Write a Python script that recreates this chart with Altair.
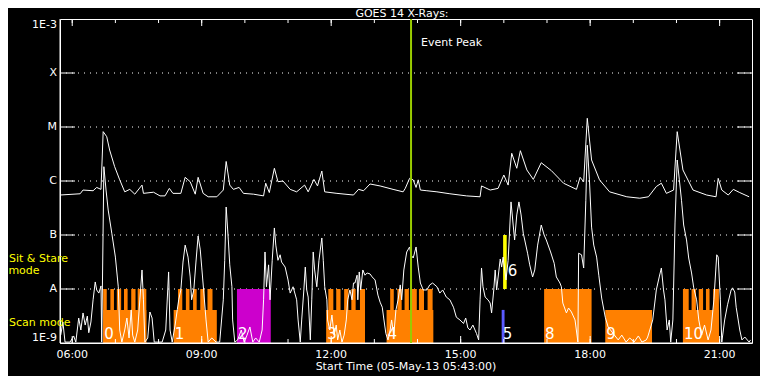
import altair as alt
import pandas as pd

# ---------------- data ----------------
START, END = "05:43", "21:45"

long_time = ["05:43","06:11","06:15","06:29","06:34","06:40","06:43","06:48","06:52","06:59",
             "07:06","07:13","07:20","07:27","07:37","07:39","07:53","08:02","08:09","08:15",
             "08:20","08:31","08:37","08:44","08:51","08:55","09:02","09:09","09:21","09:30",
             "09:34","09:39","09:44","09:52","09:58","10:12","10:26","10:29","10:34","10:41",
             "10:46","10:53","11:03","11:12","11:23","11:28","11:36","11:41","11:47","11:51",
             "12:08","12:31","12:38","12:45","12:54","13:08","13:26","13:40","13:43","13:49",
             "13:54","13:58","14:01","14:04","14:13","14:27","14:45","15:08","15:27","15:29",
             "15:41","15:52","16:00","16:06","16:11","16:18","16:23","16:32","16:41","16:52",
             "17:06","17:23","17:41","17:46","17:51","17:56","18:02","18:13","18:27","18:51",
             "19:09","19:21","19:32","19:39","19:46","19:56","20:01","20:09","20:23","20:42",
             "20:55","20:58","21:03","21:12","21:19","21:28","21:41"]
long_flux = [5.5e-7,5.8e-7,6.8e-7,6.6e-7,7.6e-7,7.0e-7,8.2e-6,6.6e-6,3.75e-6,1.84e-6,
             1.05e-6,6.3e-7,7.0e-7,5.7e-7,8.4e-7,5.9e-7,6.2e-7,5.3e-7,5.3e-7,7.3e-7,
             5.9e-7,5.9e-7,1.17e-6,9.7e-7,5.7e-7,1.17e-6,5.9e-7,5.1e-7,5.1e-7,6.8e-7,
             2.3e-6,8.4e-7,7.0e-7,7.6e-7,5.9e-7,5.7e-7,5.3e-7,9.1e-7,6.1e-7,1.72e-6,
             9.7e-7,1.0e-6,7.0e-7,6.3e-7,8.4e-7,6.3e-7,1.07e-6,8.1e-7,1.53e-6,6.3e-7,
             5.9e-7,5.5e-7,7.0e-7,6.6e-7,8.8e-7,8.1e-7,7.0e-7,6.3e-7,7.3e-7,1.12e-6,
             1.05e-6,7.6e-7,1.05e-6,6.8e-7,6.6e-7,6.3e-7,5.8e-7,5.3e-7,5.1e-7,8.1e-7,
             6.8e-7,7.3e-7,1.29e-6,8.4e-7,3.26e-6,1.72e-6,3.64e-6,1.6e-6,1.07e-6,2.18e-6,
             1.56e-6,9.1e-7,7.0e-7,1.17e-6,9.7e-7,1.45e-5,2.45e-6,1.05e-6,6.3e-7,5.1e-7,
             4.8e-7,5.1e-7,7.9e-7,9.1e-7,5.9e-7,6.8e-7,8.2e-6,1.6e-6,6.8e-7,5.5e-7,
             5.1e-7,1.12e-6,6.8e-7,5.5e-7,7.0e-7,6.1e-7,5.1e-7]

short_time = ["05:44","05:47","05:50","05:57","06:02","06:05","06:09","06:12","06:15","06:18",
              "06:21","06:23","06:26","06:29","06:32","06:34","06:37","06:40","06:41","06:44",
              "06:47","06:50","06:55","07:00","07:04","07:06","07:09","07:13","07:16","07:19",
              "07:22","07:24","07:27","07:31","07:34","07:37","07:39","07:41","07:45","07:48",
              "07:51","07:54","07:59","08:05","08:10","08:14","08:16","08:19","08:23","08:26",
              "08:28","08:31","08:34","08:37","08:41","08:44","08:46","08:49","08:52","08:55",
              "08:58","09:00","09:03","09:06","09:09","09:14","09:20","09:25","09:30","09:32",
              "09:34","09:37","09:39","09:42","09:43","09:46","09:50","09:55","09:59","10:03",
              "10:07","10:11","10:15","10:20","10:24","10:26","10:28","10:30","10:33","10:35",
              "10:38","10:41","10:43","10:46","10:49","10:51","10:56","11:00","11:03","11:07",
              "11:12","11:14","11:17","11:19","11:22","11:24","11:26","11:28","11:31","11:33",
              "11:35","11:37","11:40","11:43","11:47","11:49","11:51","11:54","11:55","11:58",
              "12:01","12:04","12:07","12:09","12:12","12:15","12:18","12:21","12:23","12:26",
              "12:29","12:31","12:33","12:36","12:37","12:39","12:41","12:44","12:47","12:50",
              "12:54","12:57","13:01","13:05","13:08","13:11","13:13","13:16","13:19","13:22",
              "13:24","13:27","13:30","13:33","13:36","13:38","13:41","13:45","13:49","13:51",
              "13:54","13:58","14:01","14:04","14:08","14:13","14:17","14:21","14:27","14:31",
              "14:35","14:40","14:45","14:50","14:54","14:59","15:04","15:07","15:10","15:13",
              "15:17","15:22","15:25","15:27","15:29","15:31","15:34","15:38","15:41","15:43",
              "15:46","15:48","15:50","15:55","15:57","15:59","16:03","16:06","16:10","16:13",
              "16:15","16:18","16:21","16:24","16:27","16:33","16:36","16:40","16:43","16:47",
              "16:52","16:56","16:59","17:05","17:10","17:13","17:18","17:20","17:22","17:27",
              "17:30","17:34","17:39","17:43","17:44","17:48","17:51","17:54","17:56","17:59",
              "18:02","18:05","18:09","18:12","18:16","18:21","18:25","18:32","18:39","18:44",
              "18:50","18:55","19:01","19:07","19:12","19:18","19:20","19:25","19:27","19:32",
              "19:36","19:39","19:42","19:44","19:47","19:50","19:52","19:55","19:58","20:01",
              "20:04","20:07","20:10","20:14","20:17","20:21","20:24","20:28","20:31","20:35",
              "20:39","20:44","20:48","20:52","20:56","20:58","21:01","21:03","21:07","21:11",
              "21:16","21:18","21:21","21:23","21:28","21:31","21:35","21:41","21:43"]
short_flux = [1.4e-9,2.45e-9,1.04e-9,1.04e-9,1.35e-9,1.04e-9,2.9e-9,1.74e-9,3.6e-9,2.15e-9,
              3.16e-9,1.55e-9,2.45e-9,6.3e-9,1.35e-8,9.6e-9,8.4e-9,1.14e-8,1.04e-9,1.84e-6,
              6.8e-7,2.9e-7,1.08e-7,3.9e-8,1.1e-8,1.74e-9,1.04e-9,1.74e-9,2.9e-9,1.24e-9,
              4.1e-9,1.4e-9,1.04e-9,1.74e-9,6.3e-9,2.25e-8,6.3e-9,1.04e-9,1.24e-9,3.75e-9,
              2.9e-9,1.04e-9,1.04e-9,1.04e-9,1.74e-9,2.07e-8,1.74e-9,1.04e-9,2.15e-9,4.1e-9,
              6.3e-9,9.6e-9,3.16e-8,6.5e-8,3.9e-8,1.67e-8,6.3e-9,9.6e-9,3.16e-8,9.6e-8,
              5.3e-8,2.55e-8,8.4e-9,2.67e-9,1.04e-9,1.24e-9,1.04e-9,1.04e-9,6.3e-9,3.4e-8,
              3.3e-7,8.1e-8,2.8e-8,1.1e-8,2.67e-9,1.04e-9,1.14e-9,1.74e-9,1.04e-9,1.4e-9,
              1.98e-9,1.04e-9,1.24e-9,1.04e-9,1.74e-9,6.3e-9,4.85e-8,1.1e-8,2.8e-8,6.3e-9,
              3.4e-8,1.35e-7,6.5e-8,3.4e-8,4.3e-8,3.16e-8,2.55e-8,1.47e-8,8.4e-9,1.1e-8,
              6.3e-9,2.67e-9,1.04e-9,2.67e-9,9.6e-9,2.55e-8,9.6e-9,7.1e-9,1.14e-9,6.3e-9,
              4.85e-8,2.25e-8,1.1e-8,3.4e-8,8.8e-8,3.4e-8,1.1e-8,6.3e-9,2.67e-9,1.74e-9,
              3.3e-9,1.4e-9,2.15e-9,1.14e-9,1.74e-9,1.04e-9,1.4e-9,2.67e-9,6.3e-9,9.6e-9,
              6.3e-9,1.29e-8,1.29e-8,1.8e-8,6.3e-9,2.07e-8,9.6e-9,2.25e-8,1.8e-8,1.98e-8,
              1.9e-8,1.67e-8,1.47e-8,7.7e-9,5.7e-9,4.6e-9,2.9e-9,1.5e-9,1.14e-9,1.74e-9,
              2.67e-9,1.4e-9,4.1e-9,6.3e-9,1.19e-8,6.3e-9,2.25e-8,4.85e-8,6.0e-8,4.3e-8,
              3.75e-8,6.0e-8,2.55e-8,1.29e-8,9.6e-9,9.6e-9,1.19e-8,1.29e-8,1.1e-8,8.4e-9,
              9.6e-9,7.1e-9,6.3e-9,4.6e-9,3.0e-9,2.67e-9,2.3e-9,2.9e-9,1.9e-9,1.74e-9,
              2.15e-9,1.5e-9,1.14e-9,6.3e-9,2.45e-8,1.1e-8,7.1e-9,6.3e-9,5.5e-9,3.6e-9,
              9.6e-9,2.25e-8,9.6e-9,3.6e-8,2.55e-8,3.9e-8,1.47e-8,3.4e-8,4.1e-7,1.53e-7,
              8.1e-8,2.35e-7,4.1e-7,2.35e-7,1.08e-7,4.6e-8,2.8e-8,1.67e-8,2.25e-8,6.5e-8,
              1.53e-7,1.0e-7,8.1e-8,4.85e-8,3.0e-8,1.67e-8,1.29e-8,1.1e-8,5.5e-9,3.6e-9,
              4.45e-9,3.75e-9,2.67e-9,1.04e-9,4.6e-8,4.3e-8,2.45e-8,4.4e-7,4.6e-6,1.05e-6,
              1.4e-7,6.5e-8,3.9e-8,1.8e-8,6.8e-9,3.0e-9,1.98e-9,1.5e-9,1.14e-9,1.4e-9,
              1.04e-9,1.24e-9,1.04e-9,1.35e-9,1.04e-9,1.14e-9,1.29e-9,2.15e-9,2.67e-9,9.6e-9,
              1.67e-8,2.45e-8,9.6e-9,6.3e-9,1.74e-9,2.67e-9,1.04e-9,2.67e-9,1.67e-7,2.45e-6,
              1.05e-6,4.4e-7,1.53e-7,8.1e-8,3.75e-8,1.98e-8,1.05e-8,6.3e-9,2.67e-9,1.4e-9,
              2.15e-9,1.14e-9,1.74e-9,6.3e-9,4.3e-8,3.9e-8,6.3e-9,1.04e-9,2.67e-9,5.1e-9,
              9.6e-9,1.05e-8,8.8e-9,4.6e-9,1.74e-9,1.14e-9,1.29e-9,1.04e-9,1.14e-9]

# observation blocks
block_label = ["0", "1", "2", "3", "4", "5", "6", "8", "9", "10"]
block_start = ["06:43","08:21","09:49","11:53","13:17","15:57","15:59","16:56","18:21","20:09"]
block_end   = ["07:43","09:21","10:36","12:47","14:22","16:01","16:04","18:02","19:26","20:59"]
block_low   = [1e-9, 1e-9, 1e-9, 1e-9, 1e-9, 1e-9, 1e-8, 1e-9, 1e-9, 1e-9]
block_high  = [4.1e-9, 4.1e-9, 1e-8, 4.1e-9, 4.1e-9, 4.1e-9, 1e-7, 1e-8, 4.1e-9, 4.1e-9]
block_color = ["#ff8000","#ff8000","#cc00cc","#ff8000","#ff8000","#5a5aff","#ffff00",
               "#ff8000","#ff8000","#ff8000"]
label_time  = ["06:43","08:21","09:49","11:53","13:17","15:57","16:04","16:56","18:21","20:09"]
label_flux  = [1.19e-9, 1.19e-9, 1.19e-9, 1.19e-9, 1.19e-9, 1.19e-9, 1.74e-8, 1.19e-9, 1.19e-9, 1.19e-9]

teeth_start = ["06:43","06:53","07:02","07:12","07:22","07:31",
               "08:27","08:38","08:48","08:58","09:08",
               "11:56","12:07","12:18","12:28","12:40",
               "13:22","13:32","13:42","13:52","14:02","14:14",
               "20:09","20:21","20:31","20:41","20:51"]
teeth_end   = ["06:48","06:58","07:08","07:17","07:28","07:43",
               "08:33","08:43","08:53","09:04","09:15",
               "12:03","12:13","12:24","12:34","12:47",
               "13:27","13:38","13:48","13:59","14:09","14:21",
               "20:17","20:27","20:37","20:46","20:59"]

level_value = [1e-8, 1e-7, 1e-6, 1e-5, 1e-4]
level_name = ["A", "B", "C", "M", "X"]
top_level, top_name = 1e-3, "1E-3"
bottom_level, bottom_name = 1e-9, "1E-9"
hour_ticks = list(range(6, 22))
hour_major = [6, 9, 12, 15, 18, 21]
hour_text = ["06:00", "09:00", "12:00", "15:00", "18:00", "21:00"]
event_time = "13:51"


def hrs(t):
    h, m = t.split(":")
    return int(h) + int(m) / 60.0


# ---------------- chart ----------------
W, H = 692, 324
FONT = "DejaVu Sans"
WHITE = "#ffffff"
YELLOW = "#ffff00"
ORANGE = "#ff8000"

xs = alt.Scale(domain=[hrs(START), hrs(END)], nice=False, zero=False)
ys = alt.Scale(type="log", domain=[1e-9, 1e-3], nice=False)


def X(field):
    return alt.X(field, type="quantitative", scale=xs, axis=None)


def Y(field):
    return alt.Y(field, type="quantitative", scale=ys, axis=None)


long_df = pd.DataFrame({"t": [hrs(t) for t in long_time], "flux": long_flux})
short_df = pd.DataFrame({"t": [hrs(t) for t in short_time], "flux": short_flux})
blocks_df = pd.DataFrame({
    "s": [hrs(t) for t in block_start], "e": [hrs(t) for t in block_end],
    "lo": block_low, "hi": block_high, "color": block_color,
})
labels_df = pd.DataFrame({"t": [hrs(t) for t in label_time], "flux": label_flux,
                          "label": block_label})
teeth_df = pd.DataFrame({"s": [hrs(t) for t in teeth_start], "e": [hrs(t) for t in teeth_end],
                         "lo": [1e-9] * len(teeth_start), "hi": [1e-8] * len(teeth_start)})
hours_df = pd.DataFrame({"h": hour_ticks})
major_df = pd.DataFrame({"h": hour_major, "txt": hour_text})
levels_df = pd.DataFrame({"v": level_value, "txt": level_name})
top_df = pd.DataFrame({"v": [top_level], "txt": [top_name]})
bot_df = pd.DataFrame({"v": [bottom_level], "txt": [bottom_name]})
event_df = pd.DataFrame({"t": [hrs(event_time)]})
one = pd.DataFrame({"a": [0]})

txt = dict(font=FONT, fontSize=11, color=WHITE)

grid = alt.Chart(levels_df).mark_rule(color=WHITE, strokeDash=[1, 5]).encode(
    y=Y("v"), x=alt.value(0), x2=alt.value(W))

blocks = alt.Chart(blocks_df).mark_rect().encode(
    x=X("s"), x2="e:Q", y=Y("lo"), y2="hi:Q", color=alt.Color("color:N", scale=None))

teeth = alt.Chart(teeth_df).mark_rect(color=ORANGE).encode(
    x=X("s"), x2="e:Q", y=Y("lo"), y2="hi:Q")

labels = alt.Chart(labels_df).mark_text(align="left", baseline="alphabetic", dx=1,
                                        fontSize=15, font=FONT, color=WHITE).encode(
    x=X("t"), y=Y("flux"), text="label:N")

short_line = alt.Chart(short_df).mark_line(color=WHITE, strokeWidth=1, clip=True).encode(
    x=X("t"), y=Y("flux"))
long_line = alt.Chart(long_df).mark_line(color=WHITE, strokeWidth=1, clip=True).encode(
    x=X("t"), y=Y("flux"))

top_minor = alt.Chart(hours_df).mark_rule(color=WHITE).encode(
    x=X("h"), y=alt.value(0), y2=alt.value(4))
top_major = alt.Chart(major_df).mark_rule(color=WHITE).encode(
    x=X("h"), y=alt.value(0), y2=alt.value(7))
bot_minor = alt.Chart(hours_df).mark_rule(color=WHITE).encode(
    x=X("h"), y=alt.value(H), y2=alt.value(H - 4))
bot_major = alt.Chart(major_df).mark_rule(color=WHITE).encode(
    x=X("h"), y=alt.value(H), y2=alt.value(H - 7))
left_ticks = alt.Chart(levels_df).mark_rule(color=WHITE).encode(
    y=Y("v"), x=alt.value(0), x2=alt.value(15))
right_ticks = alt.Chart(levels_df).mark_rule(color=WHITE).encode(
    y=Y("v"), x=alt.value(W - 15), x2=alt.value(W))
bottom_frame = alt.Chart(one).mark_rule(color=WHITE).encode(
    x=alt.value(0), x2=alt.value(W), y=alt.value(H))
left_frame = alt.Chart(one).mark_rule(color=WHITE).encode(
    x=alt.value(0), y=alt.value(0), y2=alt.value(H))

# axis labels as text
y_labels = alt.Chart(levels_df).mark_text(align="right", baseline="middle", dx=-3, **txt).encode(
    y=Y("v"), x=alt.value(0), text="txt:N")
y_top = alt.Chart(top_df).mark_text(align="right", baseline="top", dx=-3, **txt).encode(
    y=Y("v"), x=alt.value(0), text="txt:N")
y_bot = alt.Chart(bot_df).mark_text(align="right", baseline="bottom", dx=-3, **txt).encode(
    y=Y("v"), x=alt.value(0), text="txt:N")
x_labels = alt.Chart(major_df).mark_text(align="center", baseline="middle", **txt).encode(
    x=X("h"), y=alt.value(H + 12), text="txt:N")
x_title = alt.Chart(one).mark_text(text="Start Time (05-May-13 05:43:00)", align="center",
                                   baseline="middle", **txt).encode(
    x=alt.value(W / 2), y=alt.value(H + 24))
main_title = alt.Chart(one).mark_text(text="GOES 14 X-Rays:", align="center",
                                      baseline="alphabetic", **txt).encode(
    x=alt.value(W / 2 - 4), y=alt.value(-2))

event_rule = alt.Chart(event_df).mark_rule(color="#99cc00", strokeWidth=2).encode(x=X("t"))
event_text = alt.Chart(event_df).mark_text(text="Event Peak", align="left",
                                           baseline="middle", dx=10, **txt).encode(
    x=X("t"), y=alt.value(24))

ytxt = dict(font=FONT, fontSize=11, color=YELLOW)
sit1 = alt.Chart(one).mark_text(text="Sit & Stare", align="left", baseline="middle",
                                **ytxt).encode(x=alt.value(-51), y=alt.value(240))
sit2 = alt.Chart(one).mark_text(text="mode", align="center", baseline="middle",
                                **ytxt).encode(x=alt.value(-36), y=alt.value(252))
scan = alt.Chart(one).mark_text(text="Scan mode", align="left", baseline="middle",
                                **ytxt).encode(x=alt.value(-51), y=alt.value(304))

chart = alt.layer(
    grid, blocks, teeth, labels, short_line, long_line,
    top_minor, top_major, bot_minor, bot_major, left_ticks, right_ticks,
    bottom_frame, left_frame,
    y_labels, y_top, y_bot, x_labels, x_title, main_title,
    event_rule, event_text, sit1, sit2, scan,
).properties(
    width=W, height=H,
    padding={"left": 52, "top": 11, "right": 8, "bottom": 33},
    autosize=alt.AutoSizeParams(type="none"),
    background="black",
).configure_view(stroke=WHITE, strokeWidth=1)

chart.save("out.html", embed_options={"renderer": "svg", "actions": False})
